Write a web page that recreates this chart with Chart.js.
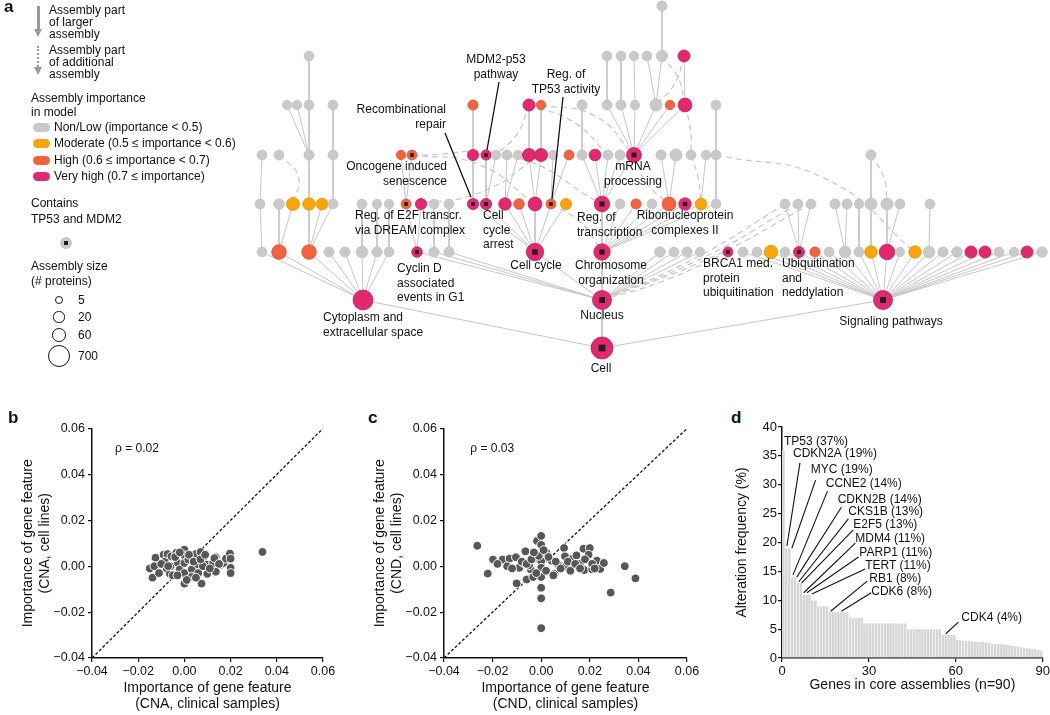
<!DOCTYPE html>
<html>
<head>
<meta charset="utf-8">
<script src="https://cdn.jsdelivr.net/npm/chart.js@4.4.1/dist/chart.umd.min.js"></script>
<style>
  body { margin: 0; background: #fff; font-family: "Liberation Sans", Arial, Helvetica, sans-serif; color: #111; }
  #page { position: relative; width: 1050px; height: 715px; overflow: hidden; }
  canvas { position: absolute; }
  .t { position: absolute; font-size: 12px; line-height: 12px; white-space: nowrap; }
  .letter { position: absolute; font-weight: bold; font-size: 17px; }
  .shaft { position: absolute; width: 2.5px; background: #9a9a9a; }
  .shaftDot { position: absolute; width: 0; border-left: 2.5px dotted #9a9a9a; }
  .head { position: absolute; width: 0; height: 0; border-left: 4px solid transparent; border-right: 4px solid transparent; border-top: 8px solid #9a9a9a; }
  .pill { position: absolute; left: 33px; width: 17px; height: 9px; border-radius: 5px; }
  .circ { position: absolute; border: 1.2px solid #111; border-radius: 50%; box-sizing: border-box; }
</style>
</head>
<body>
<div id="page">
  <canvas id="chartA" width="1050" height="390" style="left:0;top:0"></canvas>

  <div class="letter" style="left:4px;top:-3px">a</div>
  <div class="shaft" style="left:37px;top:6px;height:24px"></div>
  <div class="head" style="left:34.2px;top:29px"></div>
  <div class="t" style="left:49px;top:4px">Assembly part<br>of larger<br>assembly</div>
  <div class="shaftDot" style="left:37px;top:46px;height:21px"></div>
  <div class="head" style="left:34.2px;top:67px"></div>
  <div class="t" style="left:49px;top:44px">Assembly part<br>of additional<br>assembly</div>
  <div class="t" style="left:31px;top:91px;line-height:14px">Assembly importance<br>in model</div>
  <div class="pill" style="top:122.5px;background:#c9c9c9"></div>
  <div class="pill" style="top:138.5px;background:#f6a50b"></div>
  <div class="pill" style="top:155.5px;background:#f3633f"></div>
  <div class="pill" style="top:171.5px;background:#e2286e"></div>
  <div class="t" style="left:54px;top:121px">Non/Low (importance &lt; 0.5)</div>
  <div class="t" style="left:54px;top:137px">Moderate (0.5 ≤ importance &lt; 0.6)</div>
  <div class="t" style="left:54px;top:154px">High (0.6 ≤ importance &lt; 0.7)</div>
  <div class="t" style="left:54px;top:170px">Very high (0.7 ≤ importance)</div>
  <div class="t" style="left:31px;top:195px;line-height:16px">Contains<br>TP53 and MDM2</div>
  <div style="position:absolute;left:60px;top:237px;width:12px;height:12px;border-radius:50%;background:#c9c9c9"></div>
  <div style="position:absolute;left:64px;top:241px;width:4px;height:4px;background:#231f20"></div>
  <div class="t" style="left:31px;top:259px;line-height:15px">Assembly size<br>(# proteins)</div>
  <div id="sizeLegend"></div>

  <div class="letter" style="left:8px;top:408px">b</div>
  <div class="letter" style="left:368px;top:408px">c</div>
  <div class="letter" style="left:731px;top:408px">d</div>

  <canvas id="chartB" width="340" height="297" style="left:0;top:418px"></canvas>
  <canvas id="chartC" width="352" height="297" style="left:352px;top:418px"></canvas>
  <canvas id="chartD" width="352" height="297" style="left:700px;top:418px"></canvas>
</div>

<script>
  'use strict';

  // ---------- panel a: assembly hierarchy ----------
  // layout y of each hierarchy level (0 = top)
  var levelY = [6, 56, 105, 155, 204, 252, 300, 348];

  // nodes per level: [layout x, importance class, size (# proteins)]
  // class n = non/low, m = moderate, h = high, v = very high; upper case = contains TP53 and MDM2
  var level0 = [[662, 'n', 12]];
  var level1 = [[309, 'n', 10], [607, 'n', 10], [621, 'n', 10], [634, 'n', 8], [647, 'n', 10], [662, 'n', 20], [684, 'v', 30]];
  var level2 = [[287, 'n', 8], [297, 'n', 8], [309, 'n', 10], [333, 'n', 10], [473, 'h', 12], [529, 'v', 30], [541, 'h', 8],
    [582, 'n', 12], [607, 'n', 12], [621, 'n', 12], [635, 'n', 8], [656, 'n', 30], [670, 'h', 8], [685, 'v', 60], [716, 'n', 10]];
  var level3 = [[262, 'n', 10], [279, 'n', 10], [309, 'n', 12], [333, 'n', 10], [401, 'h', 8], [412, 'H', 10], [473, 'v', 20],
    [486, 'V', 12], [496, 'n', 8], [507, 'n', 10], [518, 'n', 8], [529, 'v', 45], [541, 'v', 45], [553, 'n', 8], [569, 'h', 10],
    [582, 'n', 12], [595, 'v', 25], [608, 'n', 10], [620, 'n', 12], [634, 'V', 90], [661, 'n', 12], [676, 'n', 30], [691, 'n', 10],
    [706, 'n', 8], [716, 'n', 10], [871, 'n', 12]];
  var level4 = [[260, 'n', 10], [279, 'n', 15], [293, 'm', 45], [309, 'm', 35], [322, 'm', 25], [333, 'n', 10], [362, 'n', 10],
    [377, 'n', 8], [389, 'n', 8], [406, 'H', 10], [421, 'v', 20], [434, 'n', 10], [449, 'n', 10], [473, 'V', 20], [486, 'V', 20],
    [505, 'v', 35], [519, 'h', 15], [535, 'v', 60], [551, 'H', 10], [566, 'm', 20], [602, 'V', 110], [620, 'n', 10], [636, 'h', 12],
    [652, 'n', 10], [669, 'h', 60], [685, 'V', 35], [701, 'm', 25], [716, 'n', 10], [785, 'n', 10], [798, 'n', 10], [811, 'n', 10],
    [835, 'n', 12], [847, 'n', 12], [859, 'n', 8], [871, 'n', 30], [887, 'n', 30], [900, 'n', 10], [930, 'n', 10]];
  var level5 = [[262, 'n', 10], [279, 'h', 80], [309, 'h', 80], [329, 'n', 12], [345, 'n', 12], [362, 'n', 25], [377, 'n', 12],
    [389, 'n', 10], [417, 'V', 15], [434, 'n', 12], [449, 'n', 12], [535, 'V', 200], [602, 'V', 150], [660, 'n', 15], [674, 'n', 10],
    [687, 'n', 12], [700, 'n', 8], [728, 'V', 10], [743, 'n', 10], [757, 'n', 10], [771, 'm', 50], [785, 'n', 10], [799, 'V', 18],
    [815, 'h', 12], [829, 'n', 10], [845, 'n', 25], [859, 'n', 10], [871, 'm', 35], [887, 'v', 110], [900, 'n', 8], [915, 'm', 35],
    [929, 'n', 25], [943, 'n', 12], [957, 'n', 15], [971, 'v', 30], [985, 'v', 30], [999, 'n', 10], [1014, 'n', 8], [1027, 'v', 30],
    [1042, 'n', 15]];
  var level6 = [[363, 'v', 420], [602, 'V', 320], [883, 'V', 320]];
  var level7 = [[602, 'V', 700]];
  var levels = [level0, level1, level2, level3, level4, level5, level6, level7];

  // solid edges "part of larger assembly": [parent level, parent x, child level, child xs]
  var treeEdges = [
    [1, 662, 0, [662]],
    [2, 309, 1, [309]], [2, 607, 1, [607]], [2, 621, 1, [621]], [2, 635, 1, [634]], [2, 656, 1, [647, 662]], [2, 685, 1, [684]],
    [3, 309, 2, [287, 297, 309]], [3, 333, 2, [333]], [3, 473, 2, [473]], [3, 529, 2, [529]], [3, 541, 2, [541]], [3, 582, 2, [582]],
    [3, 634, 2, [607, 621, 635, 656, 670, 685]], [3, 716, 2, [716]],
    [4, 260, 3, [262]], [4, 309, 3, [309]], [4, 333, 3, [333]], [4, 406, 3, [401, 412]], [4, 473, 3, [473]], [4, 486, 3, [486, 496]],
    [4, 505, 3, [507, 518]], [4, 535, 3, [529, 541]], [4, 551, 3, [553, 569]], [4, 602, 3, [582, 595, 608, 620, 634]],
    [4, 669, 3, [661, 676]], [4, 701, 3, [706]], [4, 716, 3, [716]], [4, 871, 3, [871]],
    [5, 262, 4, [260]], [5, 279, 4, [279, 293]], [5, 309, 4, [309, 322, 333]], [5, 362, 4, [362]], [5, 377, 4, [377]],
    [5, 389, 4, [389]], [5, 417, 4, [406, 421]], [5, 434, 4, [434]], [5, 449, 4, [449]],
    [5, 535, 4, [473, 486, 505, 519, 535, 551, 566]], [5, 602, 4, [602, 620, 636, 652, 669, 685, 701, 716]],
    [5, 799, 4, [785, 798, 811]], [5, 845, 4, [835, 847]], [5, 859, 4, [859]], [5, 871, 4, [871]], [5, 887, 4, [887, 900]],
    [5, 929, 4, [930]],
    [6, 363, 5, [262, 279, 309, 329, 345, 362, 377, 389]],
    [6, 602, 5, [417, 434, 449, 535, 602, 660, 674, 687, 700]],
    [6, 883, 5, [743, 757, 771, 785, 799, 815, 829, 845, 859, 871, 887, 900, 915, 929, 943, 957, 971, 985, 999, 1014, 1027, 1042]],
    [7, 602, 6, [363, 602, 883]]
  ];

  // dashed edges "part of additional assembly": [from level, from x, to level, to x, bend]
  var dashedEdges = [
    [1, 662, 2, 685, 0.1], [1, 684, 2, 656, 0.1], [2, 685, 3, 691, 0.05], [3, 691, 4, 701, 0.05],
    [2, 529, 3, 496, 0.1], [2, 541, 3, 634, 0.15], [2, 529, 3, 608, 0.1], [3, 279, 4, 293, 0.25],
    [3, 412, 4, 535, 0.12], [3, 412, 4, 602, 0.12], [4, 406, 3, 541, -0.1], [3, 716, 5, 915, 0.12],
    [3, 871, 4, 887, 0.1], [4, 785, 6, 602, 0.03], [4, 798, 6, 602, 0.03], [4, 811, 6, 602, 0.03],
    [5, 728, 6, 602, 0.03], [4, 551, 5, 602, 0.1], [3, 634, 4, 669, -0.1]
  ];

  // node labels: [lines, layout x, layout y, align]
  var netLabels = [
    [['Recombinational', 'repair'], 446, 110, 'right'],
    [['MDM2-p53', 'pathway'], 496, 60, 'center'],
    [['Reg. of', 'TP53 activity'], 566, 75, 'center'],
    [['Oncogene induced', 'senescence'], 447, 167, 'right'],
    [['Reg. of E2F transcr.', 'via DREAM complex'], 355, 216, 'left'],
    [['Cell', 'cycle', 'arrest'], 483, 216, 'left'],
    [['Cyclin D', 'associated', 'events in G1'], 397, 269, 'left'],
    [['Cell cycle'], 536, 266, 'center'],
    [['Chromosome', 'organization'], 611, 266, 'center'],
    [['Reg. of', 'transcription'], 577, 218, 'left'],
    [['mRNA', 'processing'], 633, 167, 'center'],
    [['Ribonucleoprotein', 'complexes II'], 685, 216, 'center'],
    [['BRCA1 med.', 'protein', 'ubiquitination'], 703, 264, 'left'],
    [['Ubiquitination', 'and', 'neddylation'], 782, 264, 'left'],
    [['Signaling pathways'], 891, 322, 'center'],
    [['Nucleus'], 602, 316, 'center'],
    [['Cell'], 601, 369, 'center'],
    [['Cytoplasm and', 'extracellular space'], 323, 318, 'left']
  ];
  // label leader lines: [x1, y1, x2, y2]
  var leaderLines = [[445, 133, 471, 197], [499, 82, 487, 150], [563, 97, 552, 199]];

  var sizeLegend = [5, 20, 60, 700];

  // ---------- panels b, c: gene feature importance ----------
  var axisTicks = [-0.04, -0.02, 0, 0.02, 0.04, 0.06];
  var cnaClinical = [-0.015, -0.0138, -0.0125, -0.013, -0.011, -0.009, -0.0085, -0.0073, -0.0077, -0.0063, -0.0056, -0.005, -0.006,
    -0.0035, -0.0028, -0.002, 0, 0, 0, 0, 0, 0.0017, 0.0032, 0.0032, 0.005, 0.006, 0.007, 0.0074, 0.006, 0.0084, 0.0096, 0.0099,
    0.0124, 0.0136, 0.0136, 0.016, 0.017, 0.018, 0.0197, 0.020, 0.020, 0.020, 0.0338,
    -0.01, -0.004, -0.002, 0.002, 0.004, 0.008, 0.011, 0.013, 0.005, -0.003, 0.001, 0.007, 0.009, -0.007, 0.015];
  var cnaCellLines = [-0.001, -0.005, 0.0037, 0, -0.003, 0.005, 0.002, 0.0053, -0.001, -0.0033, 0.0043, -0.004, 0,
    0.0058, 0.0014, -0.0014, 0.0072, 0.0047, 0.0014, -0.003, -0.0076, 0.0029, -0.0014, -0.0046, 0.0053, 0.0007, 0.0062, -0.0076,
    -0.003, 0.0039, 0.0007, -0.0033, 0.0014, 0.0039, -0.0024, 0.0007, 0.0014, 0.0033, 0.0055, 0.0033, -0.0007, -0.003, 0.0062,
    0.001, 0.004, 0.006, 0.005, 0.002, 0.0, -0.001, 0.0035, -0.005, -0.004, -0.006, 0.003, 0.005, 0.0, 0.001];
  var cndClinical = [-0.0263, -0.022, -0.0198, -0.0159, -0.013, -0.0104, -0.0101, -0.009, -0.0065, -0.006, -0.0043, -0.0033,
    -0.0029, -0.0017, 0, 0, 0, 0, 0, 0, 0, 0, 0, 0.0022, 0.0043, 0.0055, 0.0072, 0.0094, 0.0098, 0.0101, 0.013, 0.0145, 0.0159,
    0.0174, 0.0177, 0.020, 0.0195, 0.021, 0.0229, 0.0243, 0.0258, 0.0344, 0.0388, 0.0286, -0.0072, -0.005,
    -0.018, -0.014, -0.012, -0.008, -0.006, -0.004, -0.002, 0.002, 0.003, 0.005, 0.006, 0.008, 0.011, 0.012, 0.014, 0.016,
    0.018, 0.021, 0.022, -0.001, 0.001, -0.003];
  var cndCellLines = [0.0089, -0.0032, 0.0029, 0.0029, 0.0033, 0.0039, -0.0075, -0.0007, 0.0065, -0.0058, -0.0014, -0.0047,
    0.0033, 0.011, 0.0132, 0.0093, 0.0053, 0.0022, -0.0007, -0.0047, -0.0094, -0.014, -0.027, 0.0058, 0.0024, -0.0033, 0.0004,
    0.0079, 0.0043, 0, 0.0033, 0.0047, 0.001, 0.0076, -0.0017, 0.0079, 0.005, -0.0014, 0.0024, -0.0012, 0.0014, 0, -0.0053,
    -0.0115, 0.0014, 0.0004,
    0.001, 0.0, -0.001, 0.002, 0.001, 0.003, -0.003, -0.002, 0.004, -0.004, 0.002, -0.001, 0.002, -0.002, 0.001, -0.001,
    0.003, 0.001, -0.001, 0.0045, 0.007, 0.006];
  // correlation annotations: [text, x, y]
  var rhoB = ['\u03c1 = 0.02', -0.030, 0.051];
  var rhoC = ['\u03c1 = 0.03', -0.0292, 0.0514];

  // ---------- panel d: alteration frequency of core genes ----------
  var geneFreq = [36, 19, 19, 14, 14, 13, 13, 11, 11, 11, 10, 10, 9, 9, 9, 9, 8, 8, 8, 8, 8, 8, 8, 7, 7, 7, 7, 7,
    6, 6, 6, 6, 6, 6, 6, 6, 6, 6, 6, 6, 6, 6, 6, 5, 5, 5, 5, 5, 5, 5, 5, 5, 5, 5, 5, 4, 4, 4, 4, 4,
    3.1, 3.1, 3.0, 3.0, 3.0, 2.9, 2.9, 2.8, 2.8, 2.8, 2.7, 2.7, 2.5, 2.5, 2.5, 2.4, 2.4, 2.3, 2.2, 2.1, 2.0, 2.0,
    1.9, 1.8, 1.7, 1.7, 1.6, 1.5, 1.4, 1.3];
  var freqTicks = [0, 5, 10, 15, 20, 25, 30, 35, 40];
  var rankTicks = [0, 30, 60, 90];
  var geneLabels = ['TP53 (37%)', 'CDKN2A (19%)', 'MYC (19%)', 'CCNE2 (14%)', 'CDKN2B (14%)', 'CKS1B (13%)', 'E2F5 (13%)',
    'MDM4 (11%)', 'PARP1 (11%)', 'TERT (11%)', 'RB1 (8%)', 'CDK6 (8%)', 'CDK4 (4%)'];
  var geneLabelPos = [[0.7, 37.4], [3.8, 35.3], [9.9, 32.6], [15.1, 30.1], [19.2, 27.5], [22.9, 25.3], [24.6, 23.0],
    [25.3, 20.6], [26.7, 18.2], [28.7, 15.9], [30.1, 13.7], [30.8, 11.4], [61.9, 6.9]];
  var geneLeaders = [null, [6.2, 33.8, 1.7, 19.4], [11.6, 30.8, 3.4, 19.0], [15.7, 28.9, 3.8, 14.4], [20.5, 26.1, 5.1, 14.0],
    [22.9, 24.1, 5.8, 13.2], [24.6, 22.2, 6.8, 13.0], [25.3, 19.9, 7.5, 11.3], [26.4, 17.5, 8.6, 11.3], [28.7, 15.4, 10.3, 11.1],
    [29.4, 13.3, 16.8, 8.1], [30.8, 11.3, 20.5, 8.1], [60.9, 6.2, 56.5, 4.2]];

  var fontFamily = '"Liberation Sans", Arial, Helvetica, sans-serif';
  Chart.defaults.font.family = fontFamily;
  Chart.defaults.color = '#111';
  Chart.defaults.animation = false;
  Chart.defaults.plugins.legend.display = false;
  Chart.defaults.plugins.tooltip.enabled = false;

  var impColor = {n: '#c9c9c9', m: '#f6a50b', h: '#f3633f', v: '#e2286e'};
  var impBorder = {n: '#c2c2c2', m: '#e39600', h: '#dd5231', v: '#c41e5c'};

  function nodeRadius(size) {
    return 3.17 * Math.pow(size, 0.19);
  }

  /**
   * size legend circles
   */
  (function () {
    var holder = document.getElementById('sizeLegend');
    var rowY = [300, 317, 335, 356];
    sizeLegend.forEach(function (s, i) {
      var r = nodeRadius(s);
      var c = document.createElement('div');
      c.className = 'circ';
      c.style.left = (59 - r) + 'px';
      c.style.top = (rowY[i] - r) + 'px';
      c.style.width = c.style.height = (2 * r) + 'px';
      holder.appendChild(c);
      var t = document.createElement('div');
      t.className = 't';
      t.style.left = '78px';
      t.style.top = (rowY[i] - 6) + 'px';
      t.textContent = s;
      holder.appendChild(t);
    });
  })();

  /**
   * Draw the hierarchy
   */
  var nodes = [];
  levels.forEach(function (row, l) {
    row.forEach(function (n) {
      var cls = n[1];
      nodes.push({x: n[0], y: levelY[l], level: l, r: nodeRadius(n[2]),
        cls: cls.toLowerCase(), tp53: cls !== cls.toLowerCase()});
    });
  });

  function findNode(level, x) {
    var best = null;
    nodes.forEach(function (n) {
      if (n.level === level && (!best || Math.abs(n.x - x) < Math.abs(best.x - x))) best = n;
    });
    return best;
  }

  var netSets = [];
  treeEdges.forEach(function (e) {
    var p = findNode(e[0], e[1]);
    e[3].forEach(function (cx) {
      var c = findNode(e[2], cx);
      netSets.push({type: 'line', data: [{x: c.x, y: c.y}, {x: p.x, y: p.y}], borderColor: '#c6c6c6',
        borderWidth: 1, pointRadius: 0, order: 3, clip: false});
    });
  });
  dashedEdges.forEach(function (e) {
    var a = findNode(e[0], e[1]);
    var b = findNode(e[2], e[3]);
    var dx = b.x - a.x, dy = b.y - a.y;
    var mid = {x: (a.x + b.x) / 2 + dy * e[4], y: (a.y + b.y) / 2 - dx * e[4]};
    netSets.push({type: 'line', data: [{x: a.x, y: a.y}, mid, {x: b.x, y: b.y}], borderColor: '#c6c6c6',
      borderWidth: 1.2, borderDash: [6, 4], tension: 0.5, pointRadius: 0, order: 3, clip: false});
  });
  leaderLines.forEach(function (l) {
    netSets.push({type: 'line', data: [{x: l[0], y: l[1]}, {x: l[2], y: l[3]}], borderColor: '#111',
      borderWidth: 1.3, pointRadius: 0, order: 0, clip: false});
  });
  netSets.push({
    type: 'bubble',
    data: nodes.map(function (n) { return {x: n.x, y: n.y, r: n.r, cls: n.cls}; }),
    backgroundColor: function (c) { return c.raw ? impColor[c.raw.cls] : '#ccc'; },
    borderColor: function (c) { return c.raw ? impBorder[c.raw.cls] : '#ccc'; },
    borderWidth: 0.8, order: 2, clip: false
  });
  netSets.push({
    type: 'bubble',
    data: nodes.filter(function (n) { return n.tp53; }).map(function (n) {
      return {x: n.x, y: n.y, r: (0.5 * n.r + 1.2) / Math.SQRT2};
    }),
    pointStyle: 'rect', backgroundColor: '#231f20', borderWidth: 0, order: 1, clip: false
  });

  var netLabelPlugin = {
    id: 'netLabels',
    afterDatasetsDraw: function (chart) {
      var ctx = chart.ctx, xs = chart.scales.x, ys = chart.scales.y;
      ctx.save();
      ctx.font = '12px ' + fontFamily;
      ctx.fillStyle = '#111';
      ctx.textBaseline = 'middle';
      netLabels.forEach(function (lb) {
        ctx.textAlign = lb[3];
        lb[0].forEach(function (line, i) {
          ctx.fillText(line, xs.getPixelForValue(lb[1]), ys.getPixelForValue(lb[2]) + i * 14.5);
        });
      });
      ctx.restore();
    }
  };

  new Chart(document.getElementById('chartA'), {
    type: 'bubble',
    data: {datasets: netSets},
    options: {
      responsive: false,
      layout: {padding: 0, autoPadding: false},
      scales: {
        x: {type: 'linear', min: 0, max: 1050, display: false},
        y: {type: 'linear', min: 0, max: 390, reverse: true, display: false}
      }
    },
    plugins: [netLabelPlugin]
  });

  /**
   * scatter panels
   */
  function fmtTick(v) {
    var s = Math.abs(v).toFixed(2);
    return v < -1e-9 ? '\u2212' + s : s;
  }

  function axisStyle() {
    return {
      grid: {display: true, drawOnChartArea: false, drawTicks: true, tickLength: 4, color: '#111', lineWidth: 1.2},
      border: {display: true, color: '#111', width: 1.5}
    };
  }

  var textPlugin = {
    id: 'panelText',
    afterDatasetsDraw: function (chart, args, opts) {
      var ctx = chart.ctx, xs = chart.scales.x, ys = chart.scales.y;
      ctx.save();
      ctx.fillStyle = '#111';
      ctx.strokeStyle = '#111';
      ctx.lineWidth = 1.1;
      ctx.font = '12px ' + fontFamily;
      ctx.textBaseline = 'middle';
      ctx.textAlign = 'left';
      (opts.lines || []).forEach(function (l) {
        if (!l) return;
        ctx.beginPath();
        ctx.moveTo(xs.getPixelForValue(l[0]), ys.getPixelForValue(l[1]));
        ctx.lineTo(xs.getPixelForValue(l[2]), ys.getPixelForValue(l[3]));
        ctx.stroke();
      });
      (opts.texts || []).forEach(function (t) {
        ctx.fillText(t[0], xs.getPixelForValue(t[1]), ys.getPixelForValue(t[2]));
      });
      ctx.restore();
    }
  };

  function scatterPanel(id, xs, ys, rho, xTitle, yTitle) {
    var pts = xs.map(function (x, i) { return {x: x, y: ys[i]}; });
    var xAxis = axisStyle(), yAxis = axisStyle();
    Object.assign(xAxis, {
      type: 'linear', min: -0.04, max: 0.06,
      afterBuildTicks: function (s) { s.ticks = axisTicks.map(function (v) { return {value: v}; }); },
      afterFit: function (s) { s.height = 57; },
      ticks: {font: {size: 12.5}, padding: 2, maxRotation: 0, callback: fmtTick},
      title: {display: true, text: xTitle, font: {size: 14}, padding: {top: 0, bottom: 2}}
    });
    Object.assign(yAxis, {
      type: 'linear', min: -0.04, max: 0.06,
      afterBuildTicks: function (s) { s.ticks = axisTicks.map(function (v) { return {value: v}; }); },
      afterFit: function (s) { s.width = 92; },
      ticks: {font: {size: 12.5}, padding: 3, callback: fmtTick},
      title: {display: true, text: yTitle, font: {size: 14}, padding: {top: 19.5, bottom: 0}}
    });
    new Chart(document.getElementById(id), {
      type: 'scatter',
      data: {
        datasets: [
          {type: 'line', data: [{x: -0.04, y: -0.04}, {x: 0.06, y: 0.06}], borderColor: '#111', borderWidth: 1.3,
            borderDash: [3, 2], pointRadius: 0, order: 2},
          {data: pts, backgroundColor: '#575757', borderColor: '#ffffff', borderWidth: 1, pointRadius: 4.4, order: 1}
        ]
      },
      options: {
        responsive: false,
        layout: {padding: {top: 8, right: 17, left: 0, bottom: 0}, autoPadding: false},
        scales: {x: xAxis, y: yAxis},
        plugins: {panelText: {texts: [rho]}}
      },
      plugins: [textPlugin]
    });
  }

  scatterPanel('chartB', cnaClinical, cnaCellLines, rhoB,
    ['Importance of gene feature', '(CNA, clinical samples)'],
    ['Importance of gene feature', '(CNA, cell lines)']);
  scatterPanel('chartC', cndClinical, cndCellLines, rhoC,
    ['Importance of gene feature', '(CND, clinical samples)'],
    ['Importance of gene feature', '(CND, cell lines)']);

  /**
   * alteration frequency bars
   */
  var dX = axisStyle(), dY = axisStyle();
  Object.assign(dX, {
    type: 'linear', min: 0, max: 90, offset: false,
    afterBuildTicks: function (s) { s.ticks = rankTicks.map(function (v) { return {value: v}; }); },
    afterFit: function (s) { s.height = 57; },
    ticks: {font: {size: 13}, padding: 2, maxRotation: 0},
    title: {display: true, text: 'Genes in core assemblies (n=90)', font: {size: 14}, padding: {top: 0, bottom: 21}}
  });
  dX.grid.offset = false;
  Object.assign(dY, {
    type: 'linear', min: 0, max: 40,
    afterBuildTicks: function (s) { s.ticks = freqTicks.map(function (v) { return {value: v}; }); },
    afterFit: function (s) { s.width = 82; },
    ticks: {font: {size: 13}, padding: 1},
    title: {display: true, text: 'Alteration frequency (%)', font: {size: 14}, padding: {top: 34, bottom: 0}}
  });

  new Chart(document.getElementById('chartD'), {
    type: 'bar',
    data: {
      datasets: [{
        data: geneFreq.map(function (v, i) { return {x: i + 0.5, y: v}; }),
        backgroundColor: '#d6d6d6', borderColor: '#ffffff', borderWidth: 0.5,
        barPercentage: 1, categoryPercentage: 1
      }]
    },
    options: {
      responsive: false,
      layout: {padding: {top: 9, right: 7, left: 0, bottom: 0}},
      scales: {x: dX, y: dY},
      plugins: {
        panelText: {
          texts: geneLabels.map(function (g, i) { return [g, geneLabelPos[i][0], geneLabelPos[i][1]]; }),
          lines: geneLeaders
        }
      }
    },
    plugins: [textPlugin]
  });
</script>
</body>
</html>
